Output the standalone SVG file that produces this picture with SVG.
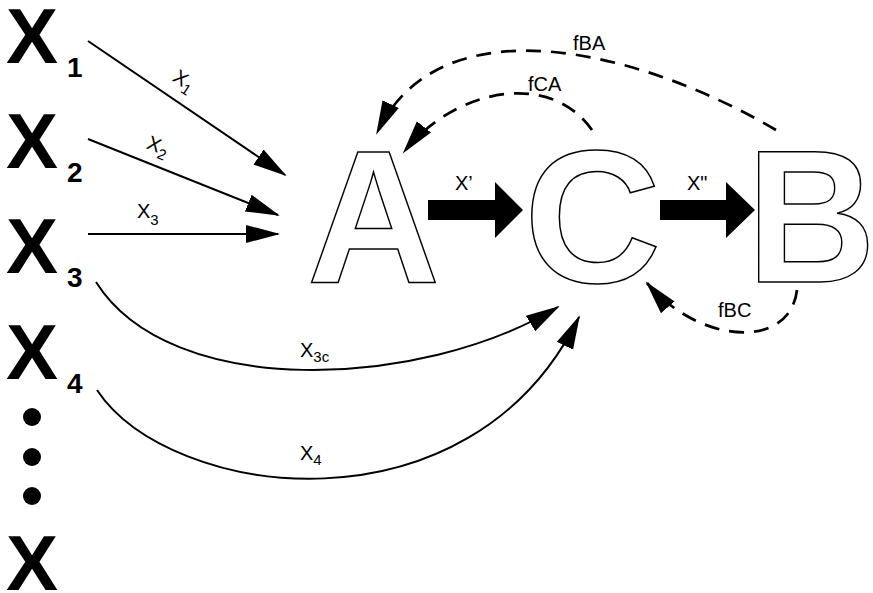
<svg xmlns="http://www.w3.org/2000/svg" width="873" height="593" viewBox="0 0 873 593">
<style>
.bigx{font-family:"Liberation Sans",Arial,sans-serif;font-weight:bold;font-size:78px;fill:#000}
.sub{font-family:"Liberation Sans",Arial,sans-serif;font-weight:bold;font-size:28px;fill:#000}
.node{font-family:"Liberation Sans",Arial,sans-serif;font-weight:bold;font-size:190px;fill:#fff;stroke:#000;stroke-width:1.5}
.lbl{font-family:"Liberation Sans",Arial,sans-serif;font-size:20px;fill:#000}
.lsub{font-size:15px}
.edge{fill:none;stroke:#000;stroke-width:2}
.dash{stroke-width:2.7;stroke-dasharray:15 10}
</style>
<defs>
<marker id="ah" markerUnits="userSpaceOnUse" markerWidth="36" markerHeight="20" refX="32" refY="10" orient="auto" viewBox="0 0 36 20">
<path d="M0,1 L34,10 L0,19 z" fill="#000" stroke="none"/>
</marker>
</defs>
<rect width="873" height="593" fill="#fff"/>
<g id="sources">
<g id="x1"><text class="bigx" x="6" y="63">X</text><text class="sub" x="67" y="77">1</text></g>
<g id="x2"><text class="bigx" x="6" y="168">X</text><text class="sub" x="67" y="182">2</text></g>
<g id="x3"><text class="bigx" x="6" y="273">X</text><text class="sub" x="67" y="287">3</text></g>
<g id="x4"><text class="bigx" x="6" y="379">X</text><text class="sub" x="67" y="393">4</text></g>
<g id="dots"><circle cx="32" cy="417" r="9"/><circle cx="32" cy="457" r="9"/><circle cx="32" cy="496" r="9"/></g>
<g id="xn"><text class="bigx" x="6" y="590">X</text></g>
</g>
<g id="nodeA"><text class="node" transform="translate(307,282) scale(0.97,1)" x="0" y="0">A</text></g>
<g id="nodeC"><text class="node" x="524" y="282">C</text></g>
<g id="nodeB"><text class="node" transform="translate(760,282) scale(0.94,1)" x="-14" y="0">B</text></g>
<g id="connectors">
<path class="edge" d="M88,41 L285,175" marker-end="url(#ah)"/>
<path class="edge" d="M88,139 L278,215" marker-end="url(#ah)"/>
<path class="edge" d="M88,234 L278,234" marker-end="url(#ah)"/>
<path class="edge" d="M96,282 C170,400 420,390 558,307" marker-end="url(#ah)"/>
<path class="edge" d="M97,390 C170,500 470,540 579,317" marker-end="url(#ah)"/>
<path class="edge dash" d="M776,130 C640,50 440,0 377,133" marker-end="url(#ah)"/>
<path class="edge dash" d="M592,130 C550,70 455,88 404,152" marker-end="url(#ah)"/>
<path class="edge dash" d="M797,290 C790,350 700,345 647,283" marker-end="url(#ah)"/>
<polygon points="428,200 495,200 495,182 523,210 495,238 495,220 428,220" fill="#000"/>
<polygon points="660,200 726,200 726,182 755,210 726,238 726,220 660,220" fill="#000"/>
</g>
<g id="labels">
<text class="lbl" transform="translate(171.5,80) rotate(34)">X<tspan class="lsub" dy="5">1</tspan></text>
<text class="lbl" transform="translate(145.4,148) rotate(22)">X<tspan class="lsub" dy="5">2</tspan></text>
<text class="lbl" x="137" y="218">X<tspan class="lsub" dy="7">3</tspan></text>
<text class="lbl" x="300" y="357">X<tspan class="lsub" dy="5">3c</tspan></text>
<text class="lbl" x="300" y="460">X<tspan class="lsub" dy="5">4</tspan></text>
<text class="lbl" x="455" y="190">X’</text>
<text class="lbl" x="687" y="190">X"</text>
<text class="lbl" x="573" y="50">fBA</text>
<text class="lbl" x="528" y="91">fCA</text>
<text class="lbl" x="718" y="317">fBC</text>
</g>
</svg>
